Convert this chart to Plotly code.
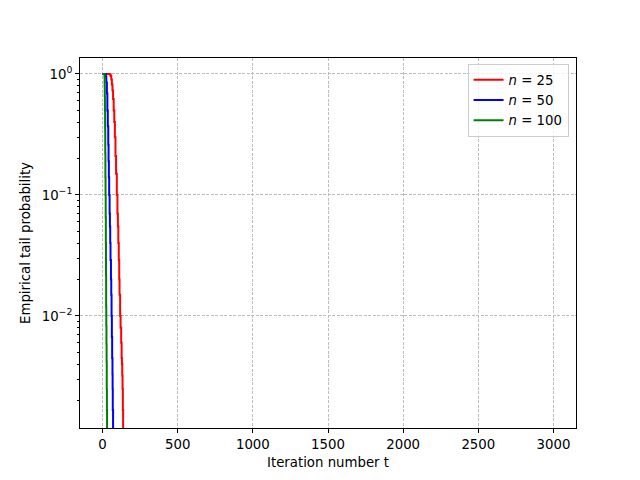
import numpy as np
import plotly.graph_objects as go

# Empirical tail probability P(T > t), per problem size n.
t_n25 = [0, 40, 48, 54, 58, 62, 66, 70, 74, 78, 82, 86, 90, 95, 99, 102, 105, 108,
         111, 113, 117, 120, 124, 127, 129, 131, 133, 135, 137, 3000]
p_n25 = [1.0, 1.0, 0.99, 0.96, 0.9, 0.82, 0.73, 0.62, 0.5, 0.4, 0.3, 0.21, 0.15, 0.1,
         0.07, 0.055, 0.04, 0.029, 0.02, 0.015, 0.01, 0.008, 0.006, 0.0045, 0.004,
         0.0032, 0.0025, 0.00167, 0.0, 0.0]

t_n50 = [0, 20, 22, 25, 29, 32, 35, 38, 40, 42, 44, 47, 49, 51, 53, 56, 58, 60, 62,
         64, 66, 67, 68, 70, 3000]
p_n50 = [1.0, 1.0, 0.95, 0.85, 0.69, 0.5, 0.37, 0.26, 0.19, 0.14, 0.1, 0.07, 0.055,
         0.04, 0.029, 0.02, 0.015, 0.01, 0.0067, 0.0045, 0.0033, 0.0025, 0.00167, 0.0, 0.0]

t_n100 = [0, 12, 13, 14, 15, 16, 17, 18, 19, 20, 21, 22, 23, 24, 25, 26, 27, 28, 29,
          30, 3000]
p_n100 = [1.0, 1.0, 0.95, 0.8, 0.65, 0.5, 0.35, 0.22, 0.14, 0.1, 0.065, 0.04, 0.022,
          0.012, 0.0083, 0.0058, 0.0042, 0.0025, 0.00167, 0.0, 0.0]

x_ticks = [0, 500, 1000, 1500, 2000, 2500, 3000]
y_ticks = [1e-2, 1e-1, 1e0]
y_tick_text = ['10<sup>\u22122</sup>', '10<sup>\u22121</sup>', '10<sup>0</sup>']

series = [
    ('<i>n</i> = 25', t_n25, p_n25, '#ff0000'),
    ('<i>n</i> = 50', t_n50, p_n50, '#0000ff'),
    ('<i>n</i> = 100', t_n100, p_n100, '#008000'),
]

FONT = dict(family='DejaVu Sans, sans-serif', size=13.3, color='black')

fig = go.Figure()
for name, t, p, color in series:
    # like matplotlib's log clipping: zeros drop straight off the bottom of the axes
    y = np.clip(np.array(p, dtype=float), 1e-12, None)
    fig.add_trace(go.Scatter(
        x=t, y=y, mode='lines', name=name, line_shape='hv',
        line=dict(color=color, width=2),
    ))

minor_vals = [m * 10.0 ** e for e in (-3, -2, -1) for m in range(2, 10)]

axis_common = dict(
    showline=True, linecolor='black', linewidth=1, mirror=True,
    ticks='outside', ticklen=4, tickwidth=1, tickcolor='black',
    showgrid=True, gridcolor='#bdbdbd', gridwidth=0.6, griddash='3px,1.5px',
    zeroline=False, tickfont=FONT,
)

# the page body has an 8px margin, so the figure is 8px smaller and shifted
fig.update_layout(
    width=632, height=472,
    margin=dict(l=72, r=64, t=50, b=52),
    paper_bgcolor='white', plot_bgcolor='white',
    font=FONT,
    xaxis=dict(
        range=[-150, 3150], tickvals=x_ticks,
        title=dict(text='Iteration number t', font=FONT, standoff=6),
        **axis_common,
    ),
    yaxis=dict(
        type='log', range=[np.log10(0.001186), np.log10(1.355)],
        tickvals=y_ticks, ticktext=y_tick_text,
        minor=dict(tickvals=minor_vals, ticks='outside', ticklen=2,
                   tickcolor='black', showgrid=False),
        title=dict(text='Empirical tail probability', font=FONT, standoff=8),
        **axis_common,
    ),
    legend=dict(
        x=0.985, y=0.985, xanchor='right', yanchor='top',
        bgcolor='rgba(255,255,255,0.8)', bordercolor='#cccccc', borderwidth=1,
        font=FONT, tracegroupgap=2,
    ),
    showlegend=True,
)

fig.write_html("out.html")
